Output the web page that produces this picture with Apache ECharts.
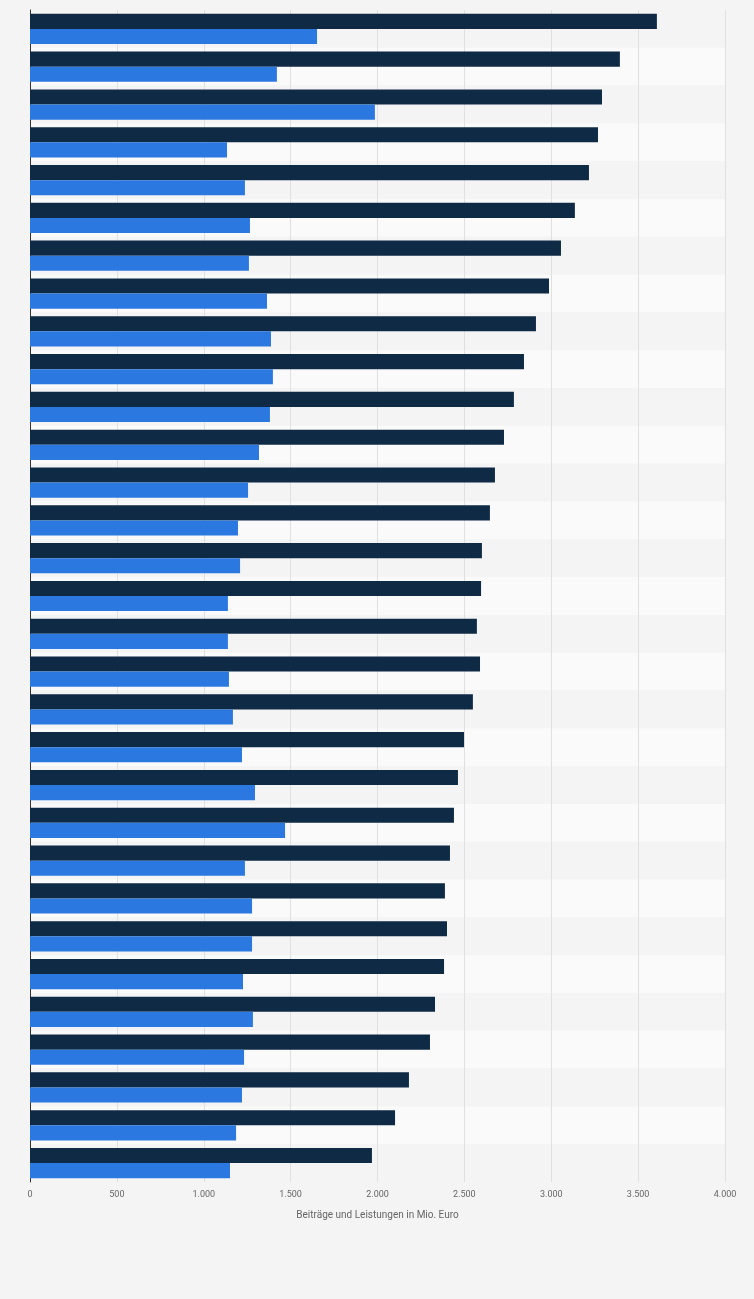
<!DOCTYPE html>
<html>
<head>
<meta charset="utf-8">
<script src="https://cdn.jsdelivr.net/npm/echarts@6/dist/echarts.min.js"></script>
<style>html,body{margin:0;padding:0;background:#f4f4f4}#chart{width:754px;height:1299px}</style>
</head>
<body>
<div id="chart"></div>
<script>
// Kategorien (im Original ohne Beschriftung)
var categories = [];
for (var y = 1991; y <= 2021; y++) categories.push(String(y));

var beitraege = [3608, 3395, 3292, 3269, 3217, 3136, 3056, 2987, 2912, 2843, 2785, 2728, 2676, 2647, 2601, 2596,
    2572, 2590, 2549, 2498, 2463, 2440, 2417, 2388, 2400, 2383, 2331, 2302, 2181, 2101, 1968];
var leistungen = [1652, 1421, 1985, 1134, 1237, 1266, 1260, 1364, 1387, 1398, 1381, 1318, 1255, 1197, 1209, 1139,
    1139, 1145, 1168, 1220, 1295, 1468, 1237, 1278, 1278, 1226, 1283, 1232, 1220, 1186, 1151];

var myChart = echarts.init(document.getElementById('chart'));
var option = {
    backgroundColor: '#f4f4f4',
    animation: false,
    grid: {left: 30, right: 29, top: 10, bottom: 117},
    xAxis: {
        type: 'value',
        min: 0, max: 4000, interval: 500,
        name: 'Beiträge und Leistungen in Mio. Euro',
        nameLocation: 'middle',
        nameGap: 28,
        nameTextStyle: {color: '#666', fontSize: 10, fontFamily: 'Roboto'},
        axisLabel: {
            color: '#666', fontSize: 9, fontFamily: 'Roboto',
            formatter: function (v) { return v >= 1000 ? Math.floor(v / 1000) + '.' + String(v % 1000).padStart(3, '0') : v; }
        },
        axisLine: {show: false},
        axisTick: {show: false},
        splitLine: {lineStyle: {color: '#e0e0e0'}}
    },
    yAxis: {
        type: 'category',
        data: categories,
        inverse: true,
        axisLabel: {show: false},
        axisTick: {show: false},
        axisLine: {lineStyle: {color: '#333'}},
        splitArea: {show: true, areaStyle: {color: ['#f4f4f4', '#fafafa']}}
    },
    series: [
        {name: 'Beiträge', type: 'bar', data: beitraege, barGap: '0%', barCategoryGap: '20%',
            itemStyle: {color: '#0f2a44'}},
        {name: 'Leistungen', type: 'bar', data: leistungen,
            itemStyle: {color: '#2b78e0'}}
    ]
};
myChart.setOption(option);
</script>
</body>
</html>
